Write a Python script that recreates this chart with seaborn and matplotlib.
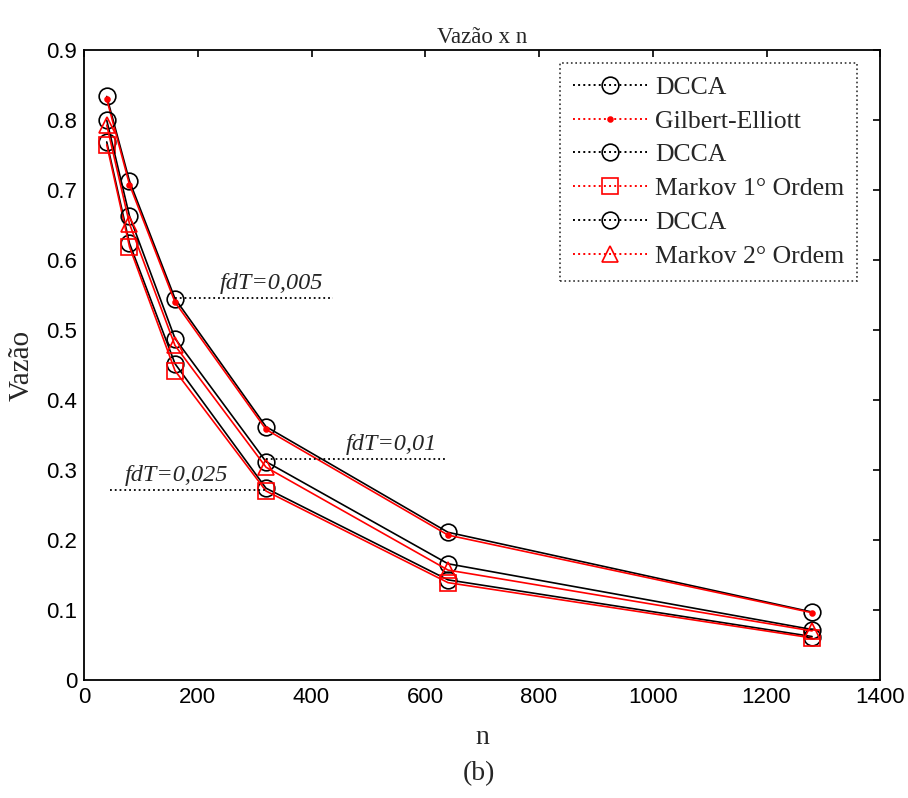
import matplotlib
matplotlib.use("Agg")
import matplotlib.pyplot as plt
from matplotlib.lines import Line2D
import seaborn as sns
import pandas as pd

sns.set_theme(style="white")
plt.rcParams['font.family'] = ['Liberation Serif', 'DejaVu Serif']

n_values = [40, 80, 160, 320, 640, 1280]

dcca_005 = [0.834, 0.713, 0.545, 0.362, 0.211, 0.097]
gilbert_elliott = [0.830, 0.708, 0.540, 0.358, 0.207, 0.096]
dcca_025 = [0.769, 0.624, 0.452, 0.274, 0.143, 0.062]
markov1 = [0.765, 0.619, 0.442, 0.270, 0.139, 0.060]
dcca_01 = [0.800, 0.663, 0.488, 0.312, 0.166, 0.072]
markov2 = [0.793, 0.652, 0.478, 0.304, 0.157, 0.070]

series = [
    ("DCCA", dcca_005, "black", "o", "none", 12),
    ("Gilbert-Elliott", gilbert_elliott, "red", ".", "red", 7),
    ("DCCA", dcca_025, "black", "o", "none", 12),
    ("Markov 1° Ordem", markov1, "red", "s", "none", 11),
    ("DCCA", dcca_01, "black", "o", "none", 12),
    ("Markov 2° Ordem", markov2, "red", "^", "none", 12),
]

fig = plt.figure(figsize=(9.08, 7.98), dpi=100)
ax = fig.add_axes([0.0925, 0.148, 0.877, 0.789])

handles = []
for i, (label, vals, color, marker, mfc, ms) in enumerate(series):
    df = pd.DataFrame({"n": n_values, "Vazão": vals})
    sns.lineplot(data=df, x="n", y="Vazão", ax=ax, color=color, marker=marker,
                 markersize=ms, markerfacecolor=mfc, markeredgecolor=color,
                 markeredgewidth=1.2, linewidth=1.2, legend=False)
    handles.append(Line2D([], [], color=color, linestyle=":", linewidth=1.4,
                          marker=marker, markersize=ms, markerfacecolor=mfc,
                          markeredgecolor=color, markeredgewidth=1.2))

leg = ax.legend(handles, [s[0] for s in series], loc="upper right",
                bbox_to_anchor=(857 / 908, 1 - 63 / 798),
                bbox_transform=fig.transFigure,
                fontsize=18.5, frameon=True, fancybox=False, edgecolor="black",
                borderaxespad=0.0, handlelength=2.9, labelspacing=0.42,
                borderpad=0.5, handletextpad=0.3)
leg.get_frame().set_linewidth(1.2)
leg.get_frame().set_linestyle(":")

ax.set_xlim(0, 1400)
ax.set_ylim(0, 0.9)
ax.set_xticks(range(0, 1401, 200))
ax.set_yticks([0, 0.1, 0.2, 0.3, 0.4, 0.5, 0.6, 0.7, 0.8, 0.9])
ax.set_yticklabels(["0", "0.1", "0.2", "0.3", "0.4", "0.5", "0.6", "0.7", "0.8", "0.9"])
ax.tick_params(direction="in", length=5, width=1.2, top=True, right=True,
               labelsize=16, colors="black", pad=5)
for lab in ax.get_xticklabels() + ax.get_yticklabels():
    lab.set_fontfamily("Liberation Sans")
for sp in ax.spines.values():
    sp.set_color("black")
    sp.set_linewidth(1.3)

ax.set_title("Vazão x n", fontsize=16.5, pad=5)
ax.set_xlabel("n", fontsize=20, labelpad=12)
ax.set_ylabel("Vazão", fontsize=21, labelpad=8)

# annotations
ax.plot([160, 437], [0.546, 0.546], color="black", linestyle=":", linewidth=1.3)
ax.text(238, 0.552, "fdT=0,005", fontsize=17.5, style="italic", ha="left", va="bottom")
ax.plot([320, 637], [0.316, 0.316], color="black", linestyle=":", linewidth=1.3)
ax.text(460, 0.322, "fdT=0,01", fontsize=17.5, style="italic", ha="left", va="bottom")
ax.plot([46, 320], [0.271, 0.271], color="black", linestyle=":", linewidth=1.3)
ax.text(72, 0.277, "fdT=0,025", fontsize=17.5, style="italic", ha="left", va="bottom")

fig.text(0.528, 0.031, "(b)", fontsize=20, ha="center", va="center")

fig.savefig("out.png", dpi=100)
